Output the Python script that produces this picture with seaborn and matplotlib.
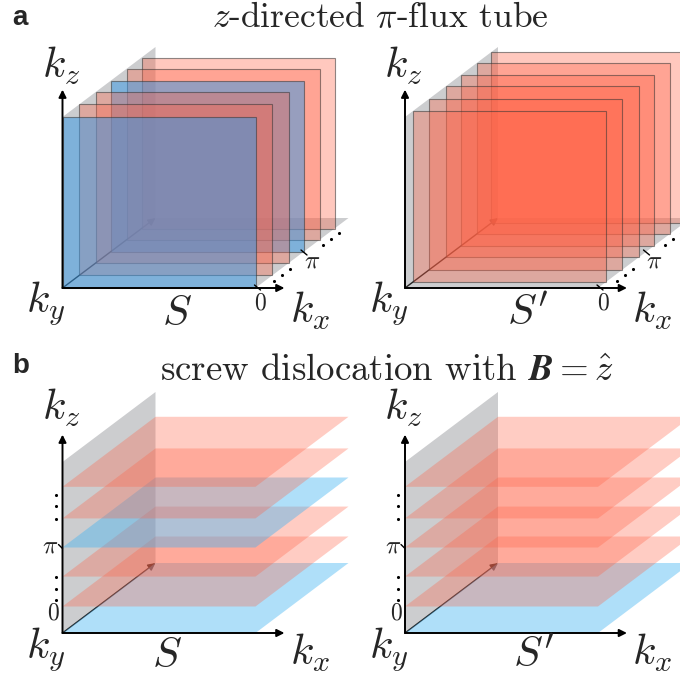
import matplotlib
matplotlib.use("Agg")
import matplotlib.pyplot as plt
import seaborn as sns
import pandas as pd
from matplotlib.patches import Polygon

# ---------------- data ----------------
# panel a: vertical (kx-kz) planes at these ky values (units of pi)
ky_planes_a_left = [0.0, 0.36, 0.72, 1.04, 1.38, 1.70]
kind_a_left = ["blue", "red", "red", "blue", "red", "red"]
ky_planes_a_right = [0.18, 0.52, 0.88, 1.20, 1.54, 1.86]
kind_a_right = ["red", "red", "red", "red", "red", "red"]
# panel b: horizontal (kx-ky) planes at these kz values (units of pi)
kz_planes_b = [0.0, 0.31, 0.66, 1.0, 1.34, 1.71]
kind_b_left = ["blue", "red", "red", "blue", "red", "red"]
kind_b_right = ["blue", "red", "red", "red", "red", "red"]
tick_values = [0.0, 1.0]
tick_labels = [r"$0$", r"$\pi$"]
dot_values = [0.33, 0.50, 0.67, 1.37, 1.54, 1.71]
dot_values_b = [0.39, 0.52, 0.65, 1.33, 1.48, 1.61]

title_a = r"$z\text{-directed }\pi\text{-flux tube}$"
title_b = r"$\text{screw dislocation with }\boldsymbol{B}=\hat{z}$"
surface_labels = [r"$S$", r"$S'$"]

# ---------------- style ----------------
sns.set_theme(style="white")
plt.rcParams["mathtext.fontset"] = "cm"
plt.rcParams["font.family"] = ["DejaVu Sans"]

RED = (1.0, 0.39, 0.28)
BLUE_A = (0.22, 0.60, 0.90)
BLUE_B = (0.26, 0.70, 0.95)
GRAY = (0.50, 0.51, 0.53)

EX = 193.0            # px per unit kx
EY = (46.5, -35.0)    # px per pi of ky
EZ = 85.5             # px per pi of kz
BIG = 31

fig = plt.figure(figsize=(6.8, 6.86), dpi=100)
ax = fig.add_axes([0, 0, 1, 1])
ax.set_xlim(0, 680)
ax.set_ylim(686, 0)
ax.axis("off")


def proj(O, kx, ky, kz):
    return (O[0] + kx * EX + ky * EY[0], O[1] + ky * EY[1] - kz * EZ)


def poly(pts, **kw):
    ax.add_patch(Polygon(pts, closed=True, **kw))


def arrow(p0, p1, lw=1.4, color="black", z=10):
    ax.annotate("", xy=p1, xytext=p0,
                arrowprops=dict(arrowstyle="-|>", lw=lw, color=color,
                                mutation_scale=11, shrinkA=0, shrinkB=0),
                zorder=z)


def axes3d(O):
    arrow(O, proj(O, 0, 2.0, 0), lw=1.0, color="#222222", z=2)
    arrow(O, proj(O, 1.15, 0, 0), z=20)
    arrow(O, proj(O, 0, 0, 2.32), z=20)


def axis_labels(O, slabel, sx, dz, dyy, dxx, ds):
    ax.text(O[0] - 20.5, O[1] + dz, r"$k_z$", fontsize=BIG, ha="left", va="baseline", zorder=30)
    ax.text(O[0] - 36, O[1] + dyy, r"$k_y$", fontsize=BIG, ha="left", va="baseline", zorder=30)
    ax.text(O[0] + 227, O[1] + dxx, r"$k_x$", fontsize=BIG, ha="left", va="baseline", zorder=30)
    ax.text(O[0] + sx, O[1] + ds, slabel, fontsize=BIG, ha="left", va="baseline", zorder=30)


def panel_a(O, kys, kinds, slabel, sx):
    # gray vertical plane kx=0, gray bottom plane kz=0
    poly([proj(O, 0, 0, 0), proj(O, 0, 0, 2), proj(O, 0, 2, 2), proj(O, 0, 2, 0)],
         facecolor=GRAY, alpha=0.4, lw=0, zorder=1)
    poly([proj(O, 0, 0, 0), proj(O, 1, 0, 0), proj(O, 1, 2, 0), proj(O, 0, 2, 0)],
         facecolor=GRAY, alpha=0.4, lw=0, zorder=1)
    axes3d(O)
    for i, (ky, kind) in enumerate(sorted(zip(kys, kinds), reverse=True)):
        c = BLUE_A if kind == "blue" else RED
        a = 0.52 if kind == "blue" else 0.35
        poly([proj(O, 0, ky, 0), proj(O, 1, ky, 0), proj(O, 1, ky, 2), proj(O, 0, ky, 2)],
             facecolor=(*c, a), edgecolor=(0.2, 0.2, 0.2, 0.55), lw=0.8, zorder=3 + i)
    # ky ticks at kx=1 edge
    for v in tick_values:
        p = proj(O, 1, v, 0)
        ax.plot([p[0] - 1, p[0] + 5], [p[1] - 3, p[1] + 2], color="black", lw=1.0, zorder=25)
    p0 = proj(O, 1, 0, 0)
    ax.text(p0[0] + 5, p0[1] + 15, tick_labels[0], fontsize=17, ha="center", va="center", zorder=30)
    pp = proj(O, 1, 1, 0)
    ax.text(pp[0] + 10, pp[1] + 8, tick_labels[1], fontsize=18, ha="center", va="center", zorder=30)
    dots = pd.DataFrame({"x": [proj(O, 1, v, 0)[0] + 3.5 for v in dot_values],
                         "y": [proj(O, 1, v, 0)[1] + 4.5 for v in dot_values]})
    sns.scatterplot(data=dots, x="x", y="y", ax=ax, color="black", s=5, linewidth=0, zorder=25)
    axis_labels(O, slabel, sx, -210, 25, 35, 37)


def panel_b(O, kinds, slabel, sx):
    poly([proj(O, 0, 0, 0), proj(O, 0, 0, 2), proj(O, 0, 2, 2), proj(O, 0, 2, 0)],
         facecolor=GRAY, alpha=0.4, lw=0, zorder=1)
    axes3d(O)
    for i, (kz, kind) in enumerate(zip(kz_planes_b, kinds)):
        c = BLUE_B if kind == "blue" else RED
        a = 0.42 if kind == "blue" else 0.32
        poly([proj(O, 0, 0, kz), proj(O, 1, 0, kz), proj(O, 1, 2, kz), proj(O, 0, 2, kz)],
             facecolor=(*c, a), lw=0, zorder=3 + i)
    pz = (O[0], O[1] - tick_values[1] * EZ)
    ax.plot([pz[0] - 4, pz[0]], [pz[1] - 3, pz[1] + 1], color="black", lw=1.0, zorder=25)
    ax.text(pz[0] - 12, pz[1] - 2, tick_labels[1], fontsize=18, ha="center", va="center", zorder=30)
    ax.text(O[0] - 9, O[1] - 14, tick_labels[0], fontsize=17, ha="center", va="baseline", zorder=30)
    dots = pd.DataFrame({"x": [O[0] - 7] * len(dot_values_b),
                         "y": [O[1] - v * EZ for v in dot_values_b]})
    sns.scatterplot(data=dots, x="x", y="y", ax=ax, color="black", s=5, linewidth=0, zorder=25)
    axis_labels(O, slabel, sx, -213, 26, 32, 34)


panel_a((62.5, 288), ky_planes_a_left, kind_a_left, surface_labels[0], 100)
panel_a((405, 288), ky_planes_a_right, kind_a_right, surface_labels[1], 102)
panel_b((62.5, 633), kind_b_left, surface_labels[0], 90)
panel_b((405, 633), kind_b_right, surface_labels[1], 108)

ax.text(12, 25, "a", fontsize=20, fontweight="bold", family="Liberation Sans", ha="left", va="baseline")
ax.text(12, 373, "b", fontsize=20, fontweight="bold", family="Liberation Sans", ha="left", va="baseline")
ax.text(380, 27, title_a, fontsize=25.5, ha="center", va="baseline")
ax.text(387, 380, title_b, fontsize=26.5, ha="center", va="baseline")

fig.savefig("out.png", dpi=100)
